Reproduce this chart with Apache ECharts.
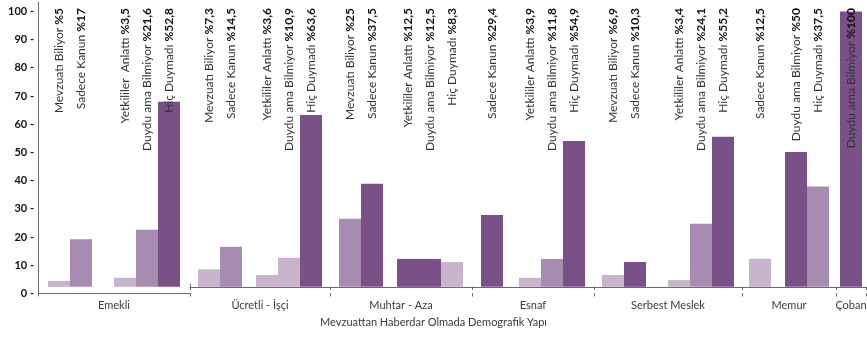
<!DOCTYPE html>
<html>
<head>
<meta charset="utf-8">
<script src="https://cdn.jsdelivr.net/npm/echarts@6/dist/echarts.min.js"></script>
<style>
  html, body { margin: 0; padding: 0; background: #fff; }
  #chart { width: 867px; height: 341px; }
</style>
</head>
<body>
<div id="chart"></div>
<script>
// demografik gruplar (x ekseni)
const groups = ['Emekli', 'Ücretli - İşçi', 'Muhtar - Aza', 'Esnaf', 'Serbest Meslek', 'Memur', 'Çoban']

// her grubun çubuk etiketleri
const barLabels = [
  ['Mevzuatı Biliyor %5', 'Sadece Kanun %17', 'Yetkililer  Anlattı %3,5', 'Duydu ama Bilmiyor %21,6', 'Hiç Duymadı %52,8'],
  ['Mevzuatı Biliyor %7,3', 'Sadece Kanun %14,5', 'Yetkililer Anlattı %3,6', 'Duydu ama Bilmiyor %10,9', 'Hiç Duymadı %63,6'],
  ['Mevzuatı Biliyor %25', 'Sadece Kanun %37,5', 'Yetkililer Anlattı %12,5', 'Duydu ama Bilmiyor %12,5', 'Hiç Duymadı %8,3'],
  ['Sadece Kanun %29,4', 'Yetkililer Anlattı %3,9', 'Duydu ama Bilmiyor %11,8', 'Hiç Duymadı %54,9'],
  ['Mevzuatı Biliyor %6,9', 'Sadece Kanun %10,3', 'Yetkililer Anlattı %3,4', 'Duydu ama Bilmiyor %24,1', 'Hiç Duymadı %55,2'],
  ['Sadece Kanun %12,5', 'Duydu ama Bilmiyor %50', 'Hiç Duymadı %37,5'],
  ['Duydu ama Bilmiyor %100']
]

// çubuk yükseklikleri (y ekseninden okunan değerler)
const barValues = [
  [4.4, 19.2, 5.5, 22.6, 68.0],
  [8.5, 16.5, 6.5, 12.6, 63.3],
  [26.5, 38.9, 12.2, 12.2, 11.1],
  [27.8, 5.5, 12.2, 54.1],
  [6.5, 11.1, 4.7, 24.7, 55.6],
  [12.3, 50.2, 37.9],
  [100]
]

const axisTitle = 'Mevzuattan Haberdar Olmada Demografik Yapı'

// ---- stil / yerleşim ----
const shadeColors = ['#c8b5cd', '#a88bb0', '#7a5088'] // açık, orta, koyu
const barShades = [
  [0, 1, 0, 1, 2],
  [0, 1, 0, 0, 2],
  [1, 2, 2, 2, 0],
  [2, 0, 1, 2],
  [0, 2, 0, 1, 2],
  [0, 2, 1],
  [2]
]
const groupEdges = [38, 190, 330, 472, 594, 742, 836, 866] // grup sınırları (px)
const clusterGaps = [22, 14, 14, 16, 22, 14, 0] // iki küme arası boşluk (px)
const BAR_W = 22
const BAR_BASE = 2.3 // çubuklar sıfırın biraz üstünden başlıyor
const Y_TOP = 103.4
const GRID_TOP = 2
const GRID_BOTTOM = 47.7
const LABEL_Y = 8
const AXIS_COLOR = '#6b6b6b'

const grid = []
const xAxis = []
const yAxis = []
const series = []

// görünen y ekseni (ilk grupta)
yAxis.push({
  gridIndex: 0,
  type: 'value',
  min: 0,
  max: Y_TOP,
  interval: 10,
  axisLine: { show: true, lineStyle: { color: AXIS_COLOR, width: 1 } },
  axisTick: { show: false },
  splitLine: { show: false },
  axisLabel: {
    showMaxLabel: false,
    formatter: '{value} -',
    margin: 4,
    color: '#111',
    fontWeight: 'bold',
    fontSize: 11,
    fontFamily: 'Lato'
  }
})

groups.forEach((name, g) => {
  grid.push({
    left: groupEdges[g],
    width: groupEdges[g + 1] - groupEdges[g],
    top: GRID_TOP,
    bottom: GRID_BOTTOM,
    outerBoundsMode: 'none'
  })
  // ana x ekseni: çizgi, dışa tik, grup adı
  xAxis.push({
    gridIndex: g,
    type: 'category',
    data: [name],
    position: 'bottom',
    offset: 3,
    axisLine: { show: true, lineStyle: { color: AXIS_COLOR, width: 1 } },
    axisTick: { show: true, length: 3, lineStyle: { color: AXIS_COLOR } },
    axisLabel: { interval: 0, margin: 4, color: '#3a3a3a', fontSize: 11, fontFamily: 'Lato' }
  })
  const xIdx = xAxis.length - 1
  // ikinci eksen: tiklerin çizginin üstüne taşan kısmı
  xAxis.push({
    gridIndex: g,
    type: 'category',
    data: [name],
    position: 'bottom',
    offset: 3,
    axisLine: { show: false },
    axisTick: { show: true, inside: true, length: 3, lineStyle: { color: AXIS_COLOR } },
    axisLabel: { show: false }
  })
  // çubuklar için gizli eksen (taban kaydırılmış)
  yAxis.push({ gridIndex: g, type: 'value', min: -BAR_BASE, max: Y_TOP - BAR_BASE, show: false })
  const yIdx = yAxis.length - 1

  // ilk küme: Mevzuatı Biliyor / Sadece Kanun
  const known = barLabels[g].filter(l => /^(Mevzuatı|Sadece)/.test(l)).length

  barLabels[g].forEach((lab, i) => {
    if (i === known && known > 0 && clusterGaps[g] > 0) {
      series.push({
        type: 'bar',
        xAxisIndex: xIdx,
        yAxisIndex: yIdx,
        data: [null],
        barWidth: clusterGaps[g],
        barGap: 0,
        silent: true
      })
    }
    const cut = lab.lastIndexOf('%')
    series.push({
      type: 'bar',
      name: lab,
      xAxisIndex: xIdx,
      yAxisIndex: yIdx,
      data: [barValues[g][i] - BAR_BASE],
      barWidth: BAR_W,
      barGap: 0,
      clip: false,
      itemStyle: { color: shadeColors[barShades[g][i]] },
      label: {
        show: true,
        position: 'top',
        rotate: 90,
        align: 'right',
        verticalAlign: 'middle',
        formatter: '{n|' + lab.slice(0, cut) + '}{b|' + lab.slice(cut) + '}',
        rich: {
          n: { fontFamily: 'Lato', fontSize: 12, color: '#333' },
          b: { fontFamily: 'Lato', fontSize: 12, fontWeight: 'bold', color: '#111' }
        }
      },
      labelLayout: { y: LABEL_Y, align: 'right', verticalAlign: 'middle' }
    })
  })
})

const myChart = echarts.init(document.getElementById('chart'))
myChart.setOption({
  animation: false,
  backgroundColor: '#fff',
  textStyle: { fontFamily: 'Lato' },
  title: {
    text: axisTitle,
    left: 320,
    top: 317,
    padding: 0,
    textStyle: { fontFamily: 'Lato', fontSize: 11, fontWeight: 'normal', color: '#3a3a3a' }
  },
  grid: grid,
  xAxis: xAxis,
  yAxis: yAxis,
  series: series
})
</script>
</body>
</html>
